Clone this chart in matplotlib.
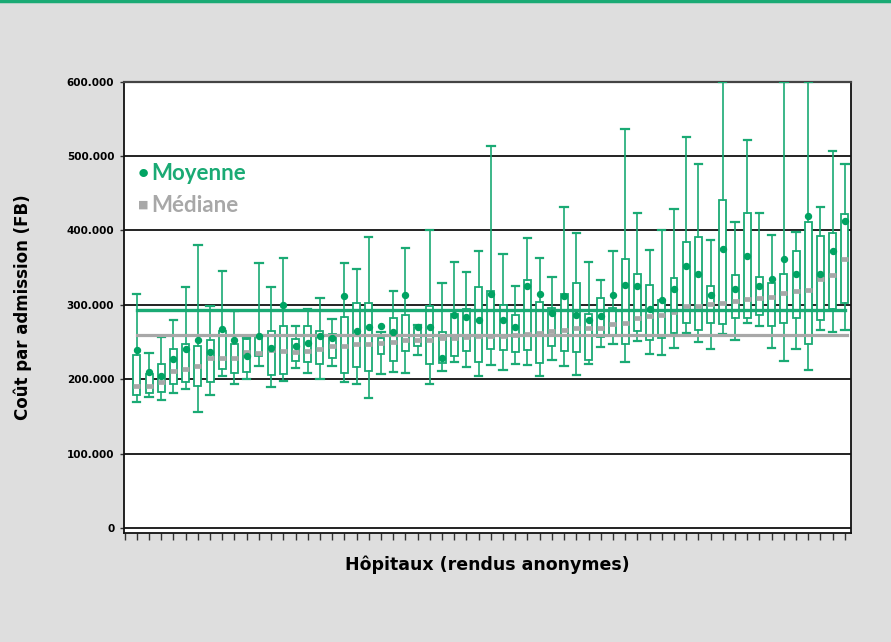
import numpy as np
import matplotlib.pyplot as plt

# coût par admission (milliers de FB), un hôpital par boîte
p_haut = [314, 235, 257, 280, 324, 381, 299, 346, 292, 256, 356, 324, 363, 272, 294, 309, 281, 356, 348, 391,
          264, 319, 377, 273, 400, 329, 357, 344, 373, 513, 369, 326, 390, 363, 337, 431, 397, 357, 333, 373,
          537, 423, 374, 400, 429, 525, 490, 387, 600, 411, 522, 424, 394, 600, 398, 600, 431, 507, 489]
q3 = [233, 207, 220, 240, 247, 245, 253, 265, 248, 254, 259, 265, 271, 254, 272, 265, 261, 284, 302, 302,
      255, 282, 286, 270, 298, 263, 288, 294, 324, 318, 300, 287, 333, 304, 296, 315, 329, 288, 309, 296,
      361, 341, 327, 307, 336, 384, 391, 326, 441, 340, 424, 338, 329, 341, 373, 412, 392, 396, 422]
mediane = [191, 191, 196, 211, 214, 218, 229, 229, 229, 236, 235, 239, 238, 237, 238, 240, 245, 245, 247, 248,
           249, 250, 253, 253, 253, 255, 256, 257, 258, 258, 258, 260, 261, 262, 265, 266, 269, 269, 269, 274,
           276, 283, 285, 287, 291, 299, 299, 301, 303, 305, 308, 309, 311, 316, 318, 320, 335, 340, 361]
q1 = [179, 182, 183, 194, 196, 191, 196, 214, 209, 210, 231, 206, 207, 225, 223, 221, 229, 209, 216, 211,
      234, 224, 238, 245, 220, 222, 231, 238, 223, 240, 239, 236, 239, 222, 245, 238, 237, 226, 257, 259,
      248, 265, 253, 255, 262, 275, 266, 275, 274, 283, 283, 287, 271, 275, 283, 248, 280, 294, 302]
p_bas = [170, 176, 172, 181, 187, 156, 179, 204, 194, 200, 218, 189, 198, 215, 208, 200, 218, 196, 193, 175,
         207, 210, 209, 233, 193, 211, 223, 216, 204, 219, 212, 221, 219, 204, 226, 218, 206, 221, 244, 248,
         223, 252, 234, 233, 242, 262, 250, 240, 261, 253, 275, 271, 242, 225, 240, 212, 266, 264, 266]
moyenne = [239, 210, 205, 227, 240, 253, 236, 267, 253, 231, 258, 242, 300, 245, 249, 258, 256, 312, 265, 270,
           271, 263, 313, 270, 270, 228, 287, 284, 279, 315, 279, 270, 326, 314, 289, 312, 287, 279, 285, 313,
           327, 325, 295, 306, 321, 352, 341, 313, 375, 321, 366, 326, 335, 361, 341, 420, 341, 372, 413]

moyenne_globale = 293.7
mediane_globale = 260

vert = '#1aaa74'
vert_point = '#00a362'
gris = '#a8a8a8'

n = len(mediane)
pos = np.arange(1, n + 1)

fig = plt.figure(figsize=(8.91, 6.42), dpi=100, facecolor='#dedede')
ax = fig.add_axes([124 / 891, 1 - 533 / 642, 727 / 891, (533 - 81.7) / 642])
ax.set_facecolor('white')

# bande verte en haut
fig.add_artist(plt.Line2D([0, 1], [0.998, 0.998], color=vert, lw=2.5, transform=fig.transFigure))

stats = []
for i in range(n):
    stats.append(dict(med=mediane[i] * 1000, q1=q1[i] * 1000, q3=q3[i] * 1000,
                      whislo=p_bas[i] * 1000, whishi=p_haut[i] * 1000, fliers=[]))

ax.bxp(stats, positions=pos, widths=0.57, capwidths=0.6, patch_artist=True, showfliers=False,
       boxprops=dict(facecolor='white', edgecolor=vert, linewidth=1.3),
       whiskerprops=dict(color=vert, linewidth=1.2),
       capprops=dict(color=vert, linewidth=1.6),
       medianprops=dict(color=gris, linewidth=3.4, solid_capstyle='butt'),
       zorder=3)

ax.plot([pos[0], pos[-1]], [moyenne_globale * 1000] * 2, color=vert, lw=2.4, zorder=4)
ax.plot([pos[0], pos[-1] + 0.2], [mediane_globale * 1000] * 2, color=gris, lw=2.3, zorder=4)
ax.plot(pos, np.array(moyenne) * 1000, 'o', color=vert_point, ms=4.3, zorder=5)

ax.set_xlim(-0.05, n + 0.5)
ax.set_ylim(-6700, 600000)
ax.set_yticks(np.arange(0, 600001, 100000))
ax.set_yticklabels(['0', '100.000', '200.000', '300.000', '400.000', '500.000', '600.000'],
                   fontsize=7.5, fontweight='bold')
ax.set_xticks(np.arange(0, n + 1))
ax.set_xticklabels([])
ax.tick_params(axis='x', direction='out', length=5, width=1, color='#333333')
ax.tick_params(axis='y', direction='out', length=3, width=1, color='#333333', pad=4)
ax.yaxis.grid(True, color='#222222', lw=1.4, zorder=0)
ax.set_axisbelow(True)
for s in ['left', 'right', 'bottom']:
    ax.spines[s].set_color('#111111')
    ax.spines[s].set_linewidth(1.3)
ax.spines['top'].set_color('#444444')
ax.spines['top'].set_linewidth(1.6)

ax.set_ylabel('Coût par admission (FB)', fontsize=12, fontweight='bold', labelpad=25)
ax.set_xlabel('Hôpitaux (rendus anonymes)', fontsize=12.5, fontweight='bold', labelpad=8)

# légende
fig.text(138 / 891, 1 - 174 / 642, '•', color=vert_point, fontsize=14, fontweight='bold',
         va='center', family='Lato')
fig.text(151 / 891, 1 - 174 / 642, 'Moyenne', color=vert, fontsize=16, fontweight='bold',
         va='center', family='Lato')
fig.text(138 / 891, 1 - 205 / 642, '■', color=gris, fontsize=8, va='center')
fig.text(151 / 891, 1 - 205 / 642, 'Médiane', color=gris, fontsize=16, fontweight='bold',
         va='center', family='Lato')

plt.savefig('out.png', dpi=100, facecolor=fig.get_facecolor())
